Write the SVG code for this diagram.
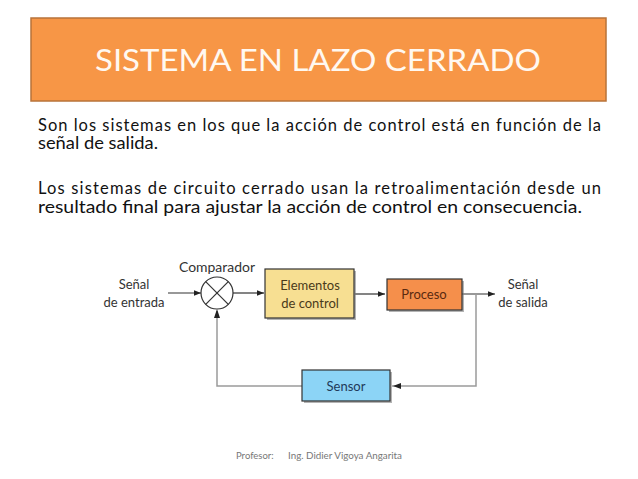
<svg xmlns="http://www.w3.org/2000/svg" width="638" height="479" viewBox="0 0 638 479">
<style>
.body{font-family:Lato,"Open Sans","Liberation Sans",sans-serif;font-size:16.5px;fill:#111}
.lbl{font-family:Lato,"Open Sans","Liberation Sans",sans-serif;font-size:13px;fill:#333;text-anchor:middle}
.fwd{stroke:#333;stroke-width:1.2;fill:none}
.fb{stroke:#9a9a9a;stroke-width:1.5;fill:none}
.box{stroke:#333;stroke-width:1.2}
.shadow{fill:#777;opacity:0.55}
</style>
<defs>
<marker id="ah" viewBox="0 0 10 10" refX="10" refY="5" markerWidth="7" markerHeight="7" orient="auto" markerUnits="userSpaceOnUse">
<path d="M0,1 L10,5 L0,9 z" fill="#222"/>
</marker>
</defs>
<rect width="638" height="479" fill="#fff"/>
<g id="title">
<rect x="31" y="18" width="575" height="83" fill="#F79646" stroke="#B8733A" stroke-width="1.5"/>
<text x="318" y="71" text-anchor="middle" font-family="Lato,'Open Sans','Liberation Sans',sans-serif" font-size="30" fill="#FFF8F0" textLength="446" lengthAdjust="spacingAndGlyphs">SISTEMA EN LAZO CERRADO</text>
</g>
<g id="text">
<text class="body" x="38" y="131" textLength="563" lengthAdjust="spacing">Son los sistemas en los que la acción de control está en función de la</text>
<text class="body" x="38" y="149" textLength="120" lengthAdjust="spacingAndGlyphs">señal de salida.</text>
<text class="body" x="38" y="194" textLength="563" lengthAdjust="spacing">Los sistemas de circuito cerrado usan la retroalimentación desde un</text>
<text class="body" x="38" y="213" textLength="544" lengthAdjust="spacingAndGlyphs">resultado final para ajustar la acción de control en consecuencia.</text>
</g>
<g id="connectors">
<line class="fwd" x1="168" y1="293" x2="201" y2="293" marker-end="url(#ah)"/>
<line class="fwd" x1="233" y1="293" x2="264" y2="293" marker-end="url(#ah)"/>
<line class="fwd" x1="355" y1="294" x2="385" y2="294" marker-end="url(#ah)"/>
<line class="fwd" x1="462" y1="294" x2="495" y2="294" marker-end="url(#ah)"/>
<polyline class="fb" points="476,294 476,386 392,386"/>
<path d="M401,383 L393,386 L401,389 z" fill="#222"/>
<polyline class="fb" points="302,386 217,386 217,311"/>
<path d="M214,318 L217,309 L220,318 z" fill="#222"/>
</g>
<g id="entrada">
<text class="lbl" x="134" y="289">Señal</text>
<text class="lbl" x="134" y="307">de entrada</text>
</g>
<g id="comparador">
<text class="lbl" x="217" y="272" textLength="76" lengthAdjust="spacingAndGlyphs">Comparador</text>
<circle cx="217" cy="293" r="16" fill="#fff" stroke="#333" stroke-width="1.2"/>
<line x1="205.7" y1="281.7" x2="228.3" y2="304.3" stroke="#333" stroke-width="1.2"/>
<line x1="228.3" y1="281.7" x2="205.7" y2="304.3" stroke="#333" stroke-width="1.2"/>
</g>
<g id="elementos">
<rect class="shadow" x="267" y="271" width="89" height="49"/>
<rect class="box" x="265" y="269" width="89" height="49" fill="#F7DF92"/>
<text class="lbl" x="310" y="290" fill="#4a3a1a" style="fill:#4a3a1a">Elementos</text>
<text class="lbl" x="310" y="308" style="fill:#4a3a1a">de control</text>
</g>
<g id="proceso">
<rect class="shadow" x="389" y="281" width="75" height="31"/>
<rect class="box" x="387" y="279" width="75" height="31" fill="#F58F4B"/>
<text class="lbl" x="424" y="299" style="fill:#5a2a10">Proceso</text>
</g>
<g id="salida">
<text class="lbl" x="523" y="289">Señal</text>
<text class="lbl" x="523" y="307">de salida</text>
</g>
<g id="sensor">
<rect class="shadow" x="304" y="372" width="88" height="31"/>
<rect class="box" x="302" y="370" width="88" height="31" fill="#8CD4F6"/>
<text class="lbl" x="346" y="391" style="fill:#1f3a5a">Sensor</text>
</g>
<g id="footer">
<text x="236" y="459" font-family="Lato,'Open Sans','Liberation Sans',sans-serif" font-size="9.5" fill="#777">Profesor:</text>
<text x="288" y="459" font-family="Lato,'Open Sans','Liberation Sans',sans-serif" font-size="9.5" fill="#777" textLength="114" lengthAdjust="spacingAndGlyphs">Ing. Didier Vigoya Angarita</text>
</g>
</svg>
